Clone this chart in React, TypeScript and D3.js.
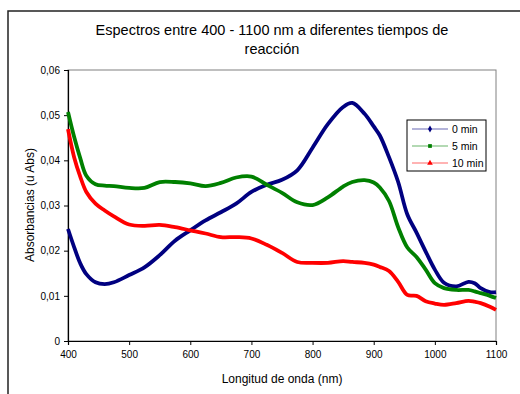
import { useEffect, useRef } from "react";
import * as d3 from "d3";

// wavelengths (nm) shared by all three spectra
const wavelengths = [
  400, 410, 420, 430, 445, 460, 475, 500, 525, 550, 575, 600, 625, 650, 675,
  700, 725, 750, 775, 800, 825, 850, 865, 885, 900, 910, 925, 940, 955, 970,
  985, 1000, 1015, 1035, 1055, 1065, 1075, 1090, 1100,
];

const abs0min = [
  0.0248, 0.0208, 0.0172, 0.0148, 0.013, 0.0126, 0.013, 0.0146, 0.0163,
  0.019, 0.0222, 0.0245, 0.0267, 0.0285, 0.0304, 0.033, 0.0346, 0.0357,
  0.0378, 0.0428, 0.048, 0.0518, 0.0527, 0.0503, 0.0475, 0.0455, 0.0407,
  0.0352, 0.028, 0.024, 0.0198, 0.0158, 0.0129, 0.0121, 0.0131, 0.0128,
  0.0117, 0.0108, 0.0108,
];

const abs5min = [
  0.0507, 0.0452, 0.0405, 0.0366, 0.0347, 0.0344, 0.0343, 0.0339, 0.0339,
  0.0352, 0.0352, 0.0349, 0.0343, 0.035, 0.0362, 0.0364, 0.0346, 0.0328,
  0.0307, 0.0301, 0.0318, 0.0342, 0.0352, 0.0356, 0.0351, 0.034, 0.031,
  0.0252, 0.0207, 0.0186, 0.0158, 0.0128, 0.0117, 0.0113, 0.0113, 0.011,
  0.0106, 0.01, 0.0095,
];

const abs10min = [
  0.0469, 0.0407, 0.0364, 0.033, 0.0304, 0.0289, 0.0276, 0.0258, 0.0255,
  0.0257, 0.0252, 0.0245, 0.0238, 0.023, 0.023, 0.0227, 0.0213, 0.0195,
  0.0175, 0.0173, 0.0173, 0.0177, 0.0175, 0.0173, 0.0169, 0.0164, 0.0155,
  0.0131, 0.0102, 0.01, 0.0088, 0.0083, 0.008, 0.0084, 0.0089, 0.0087,
  0.0084, 0.0076, 0.0069,
];

const seriesNames = ["0 min", "5 min", "10 min"];
const seriesColors = ["#000080", "#008000", "#FF0000"];
const xTicks = [400, 500, 600, 700, 800, 900, 1000, 1100];
const yTicks = [0, 0.01, 0.02, 0.03, 0.04, 0.05, 0.06];

export default function App() {
  const ref = useRef<SVGSVGElement>(null);

  useEffect(() => {
    const svg = d3.select(ref.current);
    svg.selectAll("*").remove();
    const font = "Liberation Sans, Arial, sans-serif";

    const left = 68, right = 496, top = 70, bottom = 341;
    const x = d3.scaleLinear().domain([400, 1100]).range([left, right]);
    const y = d3.scaleLinear().domain([0, 0.06]).range([bottom, top]);

    // outer chart frame
    svg
      .append("rect")
      .attr("x", 8)
      .attr("y", 11)
      .attr("width", 530)
      .attr("height", 400)
      .attr("fill", "white")
      .attr("stroke", "#222")
      .attr("stroke-width", 1.5);

    // title
    const title = svg
      .append("text")
      .attr("text-anchor", "middle")
      .style("font-family", font)
      .style("font-size", "14.5px")
      .attr("fill", "black");
    title.append("tspan").attr("x", 272).attr("y", 35)
      .text("Espectros entre 400 - 1100 nm a diferentes tiempos de");
    title.append("tspan").attr("x", 272).attr("y", 54).text("reacción");

    // plot area border
    svg
      .append("rect")
      .attr("x", left)
      .attr("y", top)
      .attr("width", right - left)
      .attr("height", bottom - top)
      .attr("fill", "none")
      .attr("stroke", "#808080")
      .attr("stroke-width", 1);

    const xAxis = svg
      .append("g")
      .attr("transform", "translate(0," + bottom + ")")
      .call(d3.axisBottom(x).tickValues(xTicks).tickSize(4).tickPadding(6).tickFormat(d3.format("d")));
    const yAxis = svg
      .append("g")
      .attr("transform", "translate(" + left + ",0)")
      .call(
        d3.axisLeft(y).tickValues(yTicks).tickSize(4).tickPadding(4)
          .tickFormat((d) => (d === 0 ? "0" : d3.format(".2f")(d as number).replace(".", ",")))
      );
    [xAxis, yAxis].forEach((g) => {
      g.select(".domain").attr("stroke", "black").attr("stroke-width", 1.2);
      g.selectAll("line").attr("stroke", "black");
      g.selectAll("text")
        .style("font-family", font)
        .style("font-size", "10px")
        .attr("fill", "black");
    });

    // spectra
    const allSeries = [abs0min, abs5min, abs10min];
    const line = d3
      .line<number>()
      .x((_, i) => x(wavelengths[i]))
      .y((d) => y(d))
      .curve(d3.curveCatmullRom.alpha(0.5));
    allSeries.forEach((vals, k) => {
      svg
        .append("path")
        .datum(vals)
        .attr("d", line)
        .attr("fill", "none")
        .attr("stroke", seriesColors[k])
        .attr("stroke-width", 3.8)
        .attr("stroke-linejoin", "round");
    });

    // axis titles
    svg
      .append("text")
      .attr("text-anchor", "middle")
      .attr("transform", "translate(34,205)rotate(-90)")
      .style("font-family", font)
      .style("font-size", "12px")
      .attr("fill", "black")
      .text("Absorbancias (u Abs)");
    svg
      .append("text")
      .attr("text-anchor", "middle")
      .attr("x", 282)
      .attr("y", 383)
      .style("font-family", font)
      .style("font-size", "12px")
      .attr("fill", "black")
      .text("Longitud de onda (nm)");

    // legend
    const legend = svg.append("g").attr("transform", "translate(407,120)");
    legend
      .append("rect")
      .attr("width", 79)
      .attr("height", 51)
      .attr("fill", "white")
      .attr("stroke", "black")
      .attr("stroke-width", 1);
    seriesNames.forEach((name, k) => {
      const ry = 9 + k * 17;
      legend
        .append("line")
        .attr("x1", 5)
        .attr("x2", 41)
        .attr("y1", ry)
        .attr("y2", ry)
        .attr("stroke", seriesColors[k])
        .attr("stroke-opacity", 0.4)
        .attr("stroke-width", 1.5);
      const sym = [d3.symbolDiamond, d3.symbolSquare, d3.symbolTriangle][k];
      legend
        .append("path")
        .attr("d", d3.symbol(sym, 14)())
        .attr("transform", "translate(23," + ry + ")")
        .attr("fill", seriesColors[k]);
      legend
        .append("text")
        .attr("x", 45)
        .attr("y", ry + 4)
        .style("font-family", font)
        .style("font-size", "10.5px")
        .attr("fill", "black")
        .text(name);
    });
  }, []);

  return (
    <svg
      ref={ref}
      width={520}
      height={394}
      style={{ position: "absolute", left: 0, top: 0, background: "white" }}
    />
  );
}
